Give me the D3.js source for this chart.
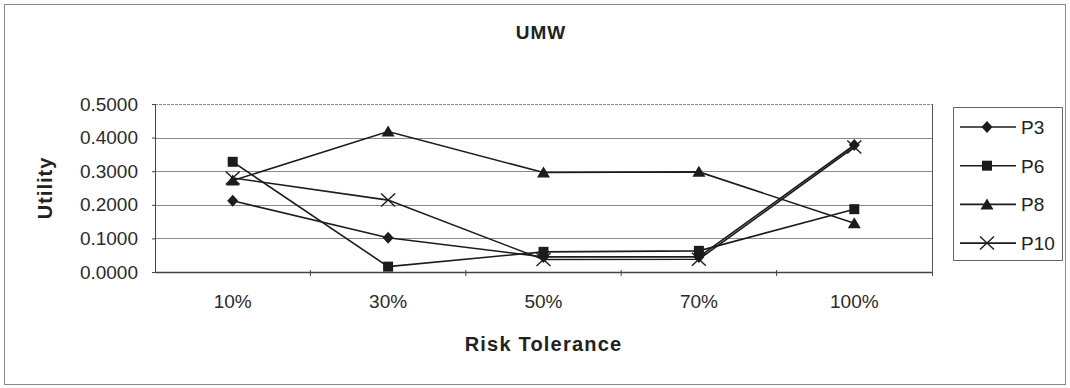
<!DOCTYPE html>
<html>
<head>
<meta charset="utf-8">
<script src="https://cdn.jsdelivr.net/npm/d3@7"></script>
<style>
  body { margin: 0; background: #fff; }
  svg { font-family: "Liberation Sans", Arial, sans-serif; }
</style>
</head>
<body>
<svg id="chart"></svg>
<script>
const categories = ['10%', '30%', '50%', '70%', '100%']
const seriesNames = ['P3', 'P6', 'P8', 'P10']
const p3 = [0.212, 0.102, 0.045, 0.045, 0.378]
const p6 = [0.328, 0.016, 0.060, 0.063, 0.187]
const p8 = [0.272, 0.418, 0.296, 0.298, 0.145]
const p10 = [0.280, 0.214, 0.037, 0.038, 0.372]
const yTicks = [0, 0.1, 0.2, 0.3, 0.4, 0.5]

const series = [
  { name: seriesNames[0], values: p3, symbol: 'diamond' },
  { name: seriesNames[1], values: p6, symbol: 'square' },
  { name: seriesNames[2], values: p8, symbol: 'triangle' },
  { name: seriesNames[3], values: p10, symbol: 'cross' }
]

const width = 1070
const height = 388
const margin = { left: 155, right: 138, top: 104, bottom: 116 }
const ink = '#1c1c1c'

const svg = d3.select('#chart')
  .attr('width', width)
  .attr('height', height)

// outer frame
svg.append('rect')
  .attr('x', 4.5).attr('y', 4.5)
  .attr('width', width - 9).attr('height', 380)
  .attr('fill', 'none')
  .attr('stroke', '#888')
  .attr('stroke-width', 1)

const x = d3.scaleBand()
  .domain(categories)
  .range([margin.left, width - margin.right])

const y = d3.scaleLinear()
  .domain([0, 0.5])
  .range([height - margin.bottom, margin.top])

// gridlines
svg.append('g')
  .selectAll('line')
  .data(yTicks.slice(1))
  .join('line')
  .attr('x1', margin.left)
  .attr('x2', width - margin.right)
  .attr('y1', d => Math.round(y(d)) + 0.5)
  .attr('y2', d => Math.round(y(d)) + 0.5)
  .attr('stroke', '#8a8a8a')
  .attr('stroke-width', 1)
  .attr('stroke-dasharray', d => d === 0.5 ? '3,1' : null)

// right border of plot
svg.append('line')
  .attr('x1', width - margin.right + 0.5)
  .attr('x2', width - margin.right + 0.5)
  .attr('y1', y(0.5))
  .attr('y2', y(0) + 4)
  .attr('stroke', '#555')

// y axis
const axisY = d3.axisLeft(y)
  .tickValues(yTicks)
  .tickFormat(d3.format('.4f'))
  .tickSize(3)
  .tickPadding(14)

const gy = svg.append('g')
  .attr('transform', `translate(${margin.left}, 0)`)
  .call(axisY)
gy.select('.domain').attr('stroke', '#444')
gy.selectAll('.tick line').attr('stroke', '#444')
gy.selectAll('.tick text')
  .attr('font-size', 19)
  .attr('fill', '#2a2a2a')

// x axis
const gx = svg.append('g')
  .attr('transform', `translate(0, ${y(0)})`)
  .call(d3.axisBottom(x).tickSize(0).tickPadding(23))
gx.select('.domain').attr('stroke', '#444').attr('stroke-width', 1.5)
gx.selectAll('.tick text')
  .attr('font-size', 19)
  .attr('fill', '#2a2a2a')

// category boundary ticks
gx.append('g')
  .selectAll('line')
  .data(categories.slice(1))
  .join('line')
  .attr('x1', d => x(d))
  .attr('x2', d => x(d))
  .attr('y1', -2)
  .attr('y2', 4)
  .attr('stroke', '#444')

// titles
svg.append('text')
  .attr('x', 541).attr('y', 39)
  .attr('text-anchor', 'middle')
  .attr('font-size', 19)
  .attr('font-weight', 'bold')
  .attr('letter-spacing', 1)
  .attr('fill', '#222')
  .text('UMW')

svg.append('text')
  .attr('x', (margin.left + width - margin.right) / 2)
  .attr('y', 351)
  .attr('text-anchor', 'middle')
  .attr('font-size', 20)
  .attr('font-weight', 'bold')
  .attr('letter-spacing', 1.2)
  .attr('fill', '#222')
  .text('Risk Tolerance')

svg.append('text')
  .attr('transform', `translate(52, ${(y(0) + y(0.5)) / 2}) rotate(-90)`)
  .attr('text-anchor', 'middle')
  .attr('font-size', 20)
  .attr('font-weight', 'bold')
  .attr('letter-spacing', 1)
  .attr('fill', '#222')
  .text('Utility')

const cx = d => x(d) + x.bandwidth() / 2

function drawMarker(g, symbol, px, py) {
  let d
  if (symbol === 'cross') {
    g.append('path')
      .attr('d', `M${px - 7},${py - 6.5}L${px + 7},${py + 6.5}M${px - 7},${py + 6.5}L${px + 7},${py - 6.5}`)
      .attr('stroke', ink)
      .attr('stroke-width', 1.4)
      .attr('fill', 'none')
    return
  }
  if (symbol === 'diamond') d = `M${px},${py - 6}L${px + 5.5},${py}L${px},${py + 6}L${px - 5.5},${py}Z`
  if (symbol === 'square') d = `M${px - 5},${py - 5}h10v10h-10Z`
  if (symbol === 'triangle') d = `M${px},${py - 6}L${px + 6.5},${py + 5}L${px - 6.5},${py + 5}Z`
  g.append('path')
    .attr('d', d)
    .attr('fill', ink)
}

const line = d3.line()
  .x(d => cx(d.cat))
  .y(d => y(d.value))

const plot = svg.append('g')
series.forEach(s => {
  const pts = categories.map((c, i) => ({ cat: c, value: s.values[i] }))
  plot.append('path')
    .datum(pts)
    .attr('d', line)
    .attr('fill', 'none')
    .attr('stroke', ink)
    .attr('stroke-width', 1.6)
})
series.forEach(s => {
  const g = plot.append('g')
  categories.forEach((c, i) => drawMarker(g, s.symbol, cx(c), y(s.values[i])))
})

// legend
const legend = svg.append('g')
legend.append('rect')
  .attr('x', 953.5).attr('y', 107.5)
  .attr('width', 109).attr('height', 153)
  .attr('fill', 'none')
  .attr('stroke', '#666')

series.forEach((s, i) => {
  const ly = 127 + i * 38.7
  const g = legend.append('g')
  g.append('line')
    .attr('x1', 960).attr('x2', 1016)
    .attr('y1', ly).attr('y2', ly)
    .attr('stroke', ink)
    .attr('stroke-width', 1.6)
  drawMarker(g, s.symbol, 987, ly)
  g.append('text')
    .attr('x', 1021).attr('y', ly + 7)
    .attr('font-size', 19)
    .attr('fill', '#222')
    .text(s.name)
})
</script>
</body>
</html>
